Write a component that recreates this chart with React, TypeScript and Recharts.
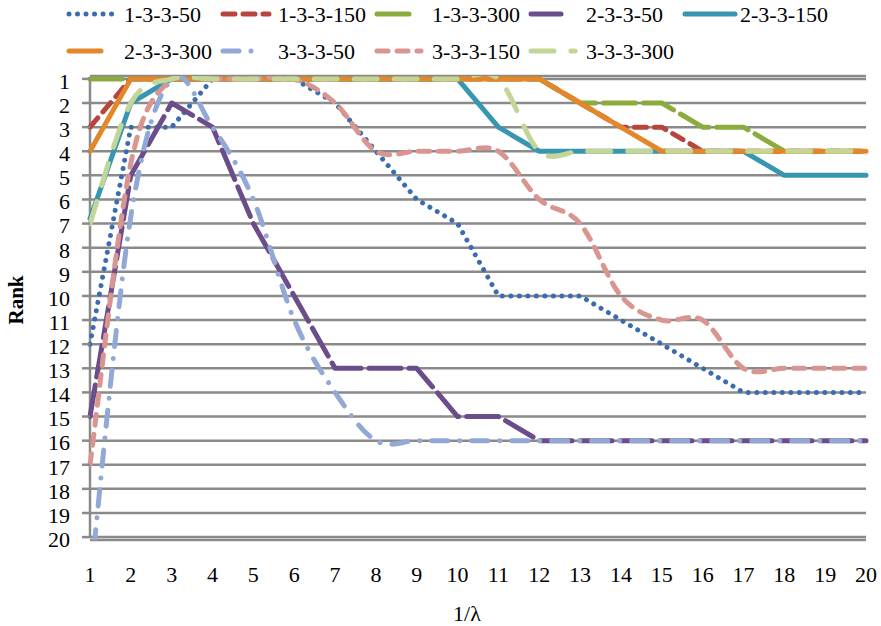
import React from "react";
import { LineChart, Line, XAxis, YAxis, CartesianGrid, ReferenceLine } from "recharts";

// 1/lambda on the horizontal axis
const lambdaInv = [1, 2, 3, 4, 5, 6, 7, 8, 9, 10, 11, 12, 13, 14, 15, 16, 17, 18, 19, 20];
const rankTicks = [1, 2, 3, 4, 5, 6, 7, 8, 9, 10, 11, 12, 13, 14, 15, 16, 17, 18, 19, 20];

// rank of each configuration, one value per 1/lambda
const rank_1_3_3_50 = [12, 3, 3, 1, 1, 1, 2, 4, 6, 7, 10, 10, 10, 11, 12, 13, 14, 14, 14, 14];
const rank_1_3_3_150 = [3, 1, 1, 1, 1, 1, 1, 1, 1, 1, 1, 1, 2, 3, 3, 4, 4, 4, 4, 4];
const rank_1_3_3_300 = [1, 1, 1, 1, 1, 1, 1, 1, 1, 1, 1, 1, 2, 2, 2, 3, 3, 4, 4, 4];
const rank_2_3_3_50 = [15, 5, 2, 3, 7, 10, 13, 13, 13, 15, 15, 16, 16, 16, 16, 16, 16, 16, 16, 16];
const rank_2_3_3_150 = [6.8, 2, 1, 1, 1, 1, 1, 1, 1, 1, 3, 4, 4, 4, 4, 4, 4, 5, 5, 5];
const rank_2_3_3_300 = [4, 1, 1, 1, 1, 1, 1, 1, 1, 1, 1, 1, 2, 3, 4, 4, 4, 4, 4, 4];
const rank_3_3_3_50 = [22, 6.7, 1, 3, 6, 11, 14, 16, 16, 16, 16, 16, 16, 16, 16, 16, 16, 16, 16, 16];
const rank_3_3_3_150 = [17, 4.5, 1, 1, 1, 1, 2, 4, 4, 4, 4, 6, 7, 10, 11, 11, 13, 13, 13, 13];
const rank_3_3_3_300 = [7, 2, 1, 1, 1, 1, 1, 1, 1, 1, 1, 4, 4, 4, 4, 4, 4, 4, 4, 4];

const font = "'Liberation Serif', 'Times New Roman', serif";
const gridColor = "#8a8a8a";

// smoothed line like excel's (catmull-rom through the points)
const smoothCurve = (ctx: any) => {
  let pts: number[][] = [];
  return {
    areaStart() {},
    areaEnd() {},
    lineStart() {
      pts = [];
    },
    point(x: number, y: number) {
      pts.push([x, y]);
    },
    lineEnd() {
      const n = pts.length;
      if (!n) return;
      ctx.moveTo(pts[0][0], pts[0][1]);
      for (let i = 0; i < n - 1; i++) {
        const p0 = pts[Math.max(i - 1, 0)];
        const p1 = pts[i];
        const p2 = pts[i + 1];
        const p3 = pts[Math.min(i + 2, n - 1)];
        ctx.bezierCurveTo(
          p1[0] + (p2[0] - p0[0]) / 6,
          p1[1] + (p2[1] - p0[1]) / 6,
          p2[0] - (p3[0] - p1[0]) / 6,
          p2[1] - (p3[1] - p1[1]) / 6,
          p2[0],
          p2[1]
        );
      }
    },
  };
};

const series = [
  { key: "a", name: "1-3-3-50", values: rank_1_3_3_50, color: "#3b6cb0", dash: "0.01 8.5", smooth: false, icon: 50 },
  { key: "b", name: "1-3-3-150", values: rank_1_3_3_150, color: "#b9433d", dash: "12 8", smooth: false, icon: 46 },
  { key: "c", name: "1-3-3-300", values: rank_1_3_3_300, color: "#8bac3c", dash: "32 8", smooth: false, icon: 32 },
  { key: "d", name: "2-3-3-50", values: rank_2_3_3_50, color: "#6b4d8b", dash: "32 8", smooth: false, icon: 30 },
  { key: "e", name: "2-3-3-150", values: rank_2_3_3_150, color: "#3996b0", dash: undefined, smooth: false, icon: 50 },
  { key: "f", name: "2-3-3-300", values: rank_2_3_3_300, color: "#e4862a", dash: undefined, smooth: false, icon: 32 },
  { key: "g", name: "3-3-3-50", values: rank_3_3_3_50, color: "#93a9d5", dash: "16 12 0.01 12", smooth: true, icon: 31 },
  { key: "h", name: "3-3-3-150", values: rank_3_3_3_150, color: "#d9958f", dash: "11 9", smooth: true, icon: 44 },
  { key: "i", name: "3-3-3-300", values: rank_3_3_3_300, color: "#c3d698", dash: "23 17", smooth: true, icon: 44 },
];

const data = lambdaInv.map((x, i) => {
  const row: any = { x };
  series.forEach((s) => {
    row[s.key] = s.values[i];
  });
  return row;
});

function LegendAndTitles() {
  return (
    <svg
      width={881}
      height={626}
      style={{ position: "absolute", left: 0, top: 0, pointerEvents: "none" }}
    >
      {series.map((s, i) => {
        const col = i < 5 ? i : i - 5;
        const cy = i < 5 ? 14 : 51;
        const x0 = 69 + col * 154;
        return (
          <g key={s.key}>
            <line
              x1={x0}
              y1={cy}
              x2={x0 + s.icon}
              y2={cy}
              stroke={s.color}
              strokeWidth={5}
              strokeLinecap="round"
              strokeDasharray={s.dash}
            />
            <text x={x0 + 55} y={cy + 8} fontFamily={font} fontSize={22} fill="#000">
              {s.name}
            </text>
          </g>
        );
      })}
      <text
        x={23}
        y={300}
        transform="rotate(-90 23 300)"
        textAnchor="middle"
        fontFamily={font}
        fontSize={21}
        fontWeight="bold"
        fill="#000"
      >
        Rank
      </text>
      <text x={467} y={621} textAnchor="middle" fontFamily={font} fontSize={22} fill="#000">
        1/λ
      </text>
    </svg>
  );
}

export default function App() {
  return (
    <div style={{ position: "absolute", left: 0, top: 0, width: 881, height: 626, background: "#fff" }}>
      <LineChart
        width={881}
        height={626}
        data={data}
        margin={{ top: 76, right: 15, bottom: 56, left: 30 }}
      >
        <CartesianGrid vertical={false} stroke={gridColor} strokeWidth={2.5} />
        <XAxis
          dataKey="x"
          type="number"
          domain={[1, 20]}
          ticks={lambdaInv}
          interval={0}
          axisLine={false}
          tickLine={false}
          tickSize={6}
          tickMargin={20}
          height={30}
          tick={{ fill: "#000", fontSize: 22, fontFamily: font }}
        />
        <YAxis
          type="number"
          reversed
          domain={[0.88, 20.12]}
          allowDataOverflow
          ticks={rankTicks}
          interval={0}
          axisLine={false}
          tickLine={{ stroke: gridColor, strokeWidth: 2.5 }}
          tickSize={8}
          tickMargin={12}
          width={60}
          tick={{ fill: "#000", fontSize: 22, fontFamily: font, dy: 2 }}
        />
        <ReferenceLine
          segment={[
            { x: 1, y: 1 },
            { x: 1, y: 20 },
          ]}
          stroke={gridColor}
          strokeWidth={2.5}
        />
        {series.map((s) => (
          <Line
            key={s.key}
            dataKey={s.key}
            name={s.name}
            type={s.smooth ? (smoothCurve as any) : "linear"}
            stroke={s.color}
            strokeWidth={5}
            strokeLinecap="round"
            strokeLinejoin="round"
            strokeDasharray={s.dash}
            dot={false}
            activeDot={false}
            isAnimationActive={false}
          />
        ))}
      </LineChart>
      <LegendAndTitles />
    </div>
  );
}
